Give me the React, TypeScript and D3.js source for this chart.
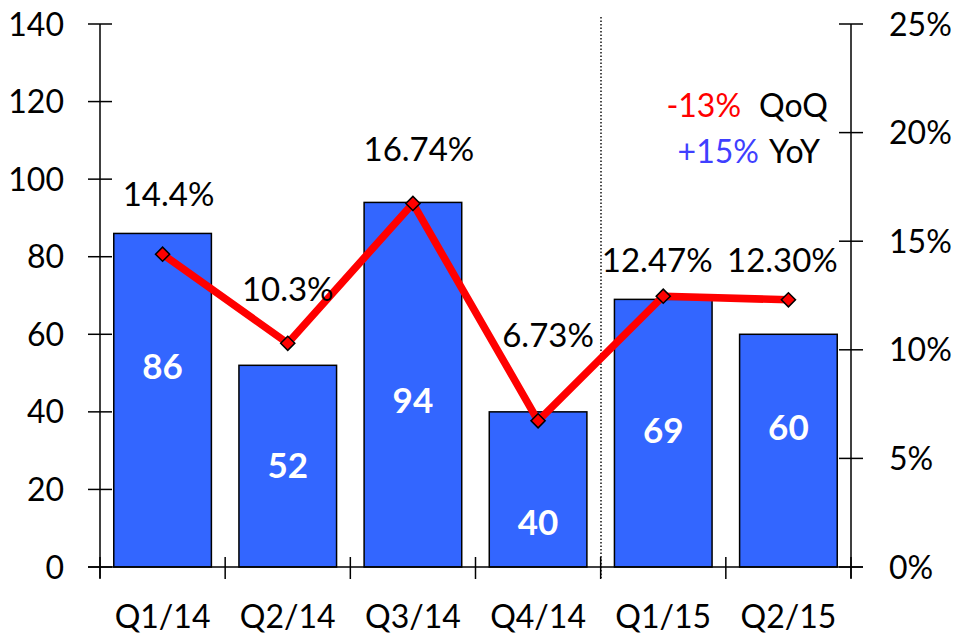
import React from "react";
import * as d3 from "d3";

const categories = ["Q1/14", "Q2/14", "Q3/14", "Q4/14", "Q1/15", "Q2/15"];
const barValues = [86, 52, 94, 40, 69, 60];
const marginValues = [14.4, 10.3, 16.74, 6.73, 12.47, 12.3];
const marginLabels = ["14.4%", "10.3%", "16.74%", "6.73%", "12.47%", "12.30%"];
const leftTicks = [0, 20, 40, 60, 80, 100, 120, 140];
const rightTicks = [0, 5, 10, 15, 20, 25];

// layout tweaks for labels (as placed in the original)
const marginLabelOffsets: [number, number][] = [
  [6, -48],
  [0, -42],
  [6, -42],
  [10, -74],
  [-6, -24],
  [-6, -28],
];
const barLabelCenters = [366, 465, 400, 522, 430, 427];

const W = 960;
const H = 637;
const FONT = "Lato, 'Noto Sans', sans-serif";

export default function App() {
  const x0 = 100;
  const x1 = 851;
  const yTop = 24;
  const yBase = 567;

  const x = d3
    .scaleBand<string>()
    .domain(categories)
    .range([x0, x1])
    .paddingInner(0.22)
    .paddingOuter(0.11);
  const yL = d3.scaleLinear().domain([0, 140]).range([yBase, yTop]);
  const yR = d3.scaleLinear().domain([0, 25]).range([yBase, yTop]);

  const cx = (i: number) => (x(categories[i]) as number) + x.bandwidth() / 2;

  const line = d3
    .line<number>()
    .x((_, i) => cx(i))
    .y((d) => yR(d));

  const step = (x1 - x0) / categories.length;
  const fs = 32;

  return (
    <svg
      width={W}
      height={H}
      style={{ position: "absolute", left: 0, top: 0, background: "#fff" }}
      fontFamily={FONT}
    >
      {/* bars */}
      {barValues.map((v, i) => (
        <rect
          key={i}
          x={x(categories[i])}
          y={yL(v)}
          width={x.bandwidth()}
          height={yBase - yL(v)}
          fill="#3366ff"
          stroke="#000"
          strokeWidth={1.5}
        />
      ))}
      {/* bar labels */}
      {barValues.map((v, i) => (
        <text
          key={i}
          x={cx(i)}
          y={barLabelCenters[i]}
          dy="0.36em"
          textAnchor="middle"
          fill="#fff"
          fontWeight="bold"
          fontSize={35}
        >
          {v}
        </text>
      ))}
      {/* dotted separator */}
      <line x1={601} x2={601} y1={17} y2={578} stroke="#000" strokeWidth={1.4} strokeDasharray="1.5,2" />
      {/* axes */}
      <line x1={x0} x2={x0} y1={yTop} y2={578} stroke="#000" strokeWidth={1.5} />
      <line x1={x1} x2={x1} y1={yTop} y2={578} stroke="#000" strokeWidth={1.5} />
      <line x1={88} x2={863} y1={yBase} y2={yBase} stroke="#000" strokeWidth={1.5} />
      {leftTicks.map((t) => (
        <g key={t}>
          <line x1={88} x2={112} y1={yL(t)} y2={yL(t)} stroke="#000" strokeWidth={1.5} />
          <text x={64} y={yL(t)} dy="0.36em" textAnchor="end" fontSize={fs} fill="#000">
            {t}
          </text>
        </g>
      ))}
      {rightTicks.map((t) => (
        <g key={t}>
          <line x1={839} x2={863} y1={yR(t)} y2={yR(t)} stroke="#000" strokeWidth={1.5} />
          <text x={889} y={yR(t)} dy="0.36em" textAnchor="start" fontSize={fs} fill="#000">
            {t}%
          </text>
        </g>
      ))}
      {d3.range(categories.length + 1).map((i) => (
        <line key={i} x1={x0 + step * i} x2={x0 + step * i} y1={557} y2={579} stroke="#000" strokeWidth={1.5} />
      ))}
      {categories.map((c, i) => (
        <text key={c} x={cx(i)} y={628} textAnchor="middle" fontSize={fs} fill="#000">
          {c}
        </text>
      ))}
      {/* line */}
      <path d={line(marginValues) || ""} fill="none" stroke="#ff0000" strokeWidth={7.5} strokeLinejoin="round" />
      {marginValues.map((v, i) => (
        <rect
          key={i}
          x={cx(i) - 5}
          y={yR(v) - 5}
          width={10}
          height={10}
          transform={`rotate(45 ${cx(i)} ${yR(v)})`}
          fill="#ff0000"
          stroke="#000"
          strokeWidth={1.5}
        />
      ))}
      {marginValues.map((v, i) => (
        <text
          key={i}
          x={cx(i) + marginLabelOffsets[i][0]}
          y={yR(v) + marginLabelOffsets[i][1]}
          textAnchor="middle"
          fontSize={33}
          fill="#000"
        >
          {marginLabels[i]}
        </text>
      ))}
      {/* annotation */}
      <text x={828} y={117} textAnchor="end" fontSize={fs} fill="#000">
        <tspan fill="#ff0000">-13%</tspan>
        <tspan dx={18}>QoQ</tspan>
      </text>
      <text x={820} y={163} textAnchor="end" fontSize={fs} fill="#000">
        <tspan fill="#3f3fff">+15%</tspan>
        <tspan dx={10}>YoY</tspan>
      </text>
    </svg>
  );
}
